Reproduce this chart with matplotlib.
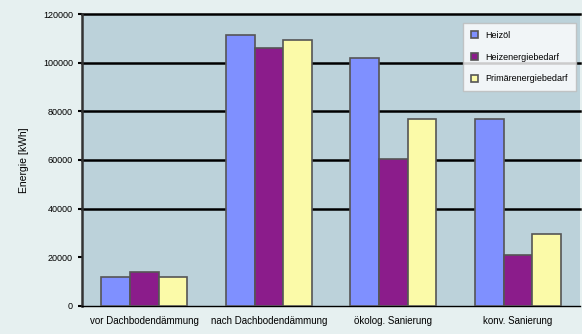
import matplotlib.pyplot as plt
import numpy as np

categories = ["vor Dachbodendämmung", "nach Dachbodendämmung", "ökolog. Sanierung", "konv. Sanierung"]
series_names = ["Heizöl", "Heizenergiebedarf", "Primärenergiebedarf"]
heizoel = [12000, 111500, 102000, 77000]
heizenergie = [14000, 106000, 60500, 21000]
primaer = [12000, 109500, 77000, 29500]
yticks = [0, 20000, 40000, 60000, 80000, 100000, 120000]

plt.rcParams['font.family'] = ['Liberation Sans', 'DejaVu Sans']

fig = plt.figure(figsize=(5.82, 3.34), dpi=100, facecolor='#e6f0f0')
ax = fig.add_axes([0.141, 0.084, 0.856, 0.874])
ax.set_facecolor('#bcd2da')

x = np.arange(len(categories))
w = 0.23
colors = ['#7f90ff', '#8b1c8b', '#fbfaa8']
for i, (vals, name) in enumerate(zip([heizoel, heizenergie, primaer], series_names)):
    ax.bar(x + (i - 1) * w, vals, w, color=colors[i], edgecolor='#555555',
           linewidth=1.2, label=name, zorder=3)

# Rasterlinien (schwarz, ab 40000)
for t in yticks[2:]:
    ax.axhline(t, color='black', linewidth=1.8, zorder=1, clip_on=False)

ax.set_xlim(-0.5, len(categories) - 0.5)
ax.set_ylim(0, 120000)
ax.set_yticks(yticks)
ax.set_yticklabels([str(t) for t in yticks], fontsize=6.5)
ax.set_xticks(x)
ax.set_xticklabels(categories, fontsize=7)
ax.tick_params(axis='x', length=0, pad=7)
ax.tick_params(axis='y', length=3, width=1.5)
ax.set_ylabel("Energie [kWh]", fontsize=7.5, labelpad=10)

for s in ['top', 'right']:
    ax.spines[s].set_visible(False)
ax.spines['left'].set_linewidth(1.8)
ax.spines['left'].set_color('#333333')
ax.spines['bottom'].set_linewidth(1.0)

leg = ax.legend(loc='upper right', bbox_to_anchor=(1.0, 0.985), fontsize=6.5,
                frameon=True, fancybox=False, handlelength=0.8, handleheight=0.8,
                labelspacing=1.4, borderpad=0.9)
leg.get_frame().set_facecolor('white')
leg.get_frame().set_edgecolor('#bbbbbb')
leg.set_zorder(5)

plt.savefig("out.png", dpi=100, facecolor=fig.get_facecolor())
